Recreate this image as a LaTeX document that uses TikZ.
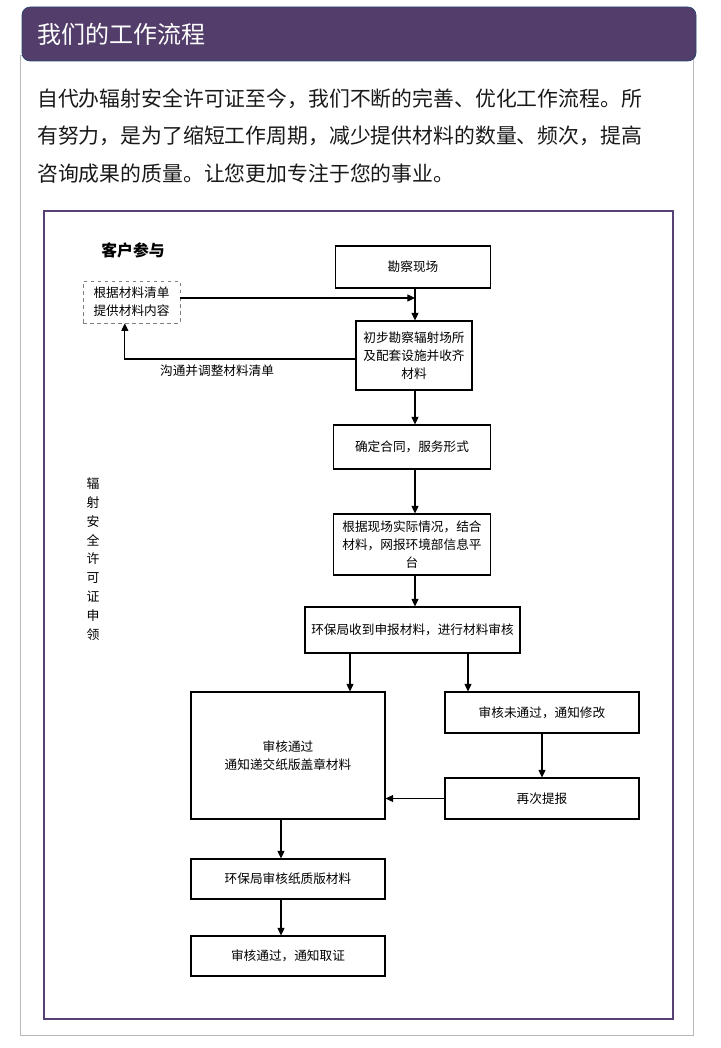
\documentclass[tikz,border=0pt]{standalone}
\usepackage{fontspec}
\setmainfont{Noto Sans CJK SC}
\usetikzlibrary{arrows.meta, positioning}
\definecolor{headpurple}{RGB}{83,61,106}
\definecolor{headedge}{RGB}{40,70,110}
\definecolor{framepurple}{RGB}{85,65,115}
\definecolor{panelgray}{RGB}{185,185,185}
\definecolor{bodytext}{RGB}{25,25,25}

\begin{document}
\begin{tikzpicture}[x=0.03cm, y=-0.03cm,
    stepbox/.style={draw, line width=0.9pt, inner sep=0pt, align=center,
                    font=\fontsize{10.8}{15.3}\selectfont},
    dashbox/.style={stepbox, dashed, draw=gray, line width=0.6pt},
    flow/.style={-{Triangle[length=6.5pt,width=6pt]}, line width=0.9pt}]
    \useasboundingbox (0,0) rectangle (720,1048);

    % page frame
    \draw[panelgray, line width=0.8pt] (20,55) rectangle (693,1035);
    \draw[headedge, fill=headpurple, line width=0.6pt, rounded corners=7pt] (22,7) rectangle (696,61);
    \node[anchor=west, text=white, font=\fontsize{20.5}{24}\selectfont] (title) at (33,34) {我们的工作流程};
    \node[anchor=west, align=left, inner sep=0pt, text=bodytext,
          font=\fontsize{17.8}{32.3}\selectfont] (intro) at (37,136)
          {自代办辐射安全许可证至今，我们不断的完善、优化工作流程。所\\
           有努力，是为了缩短工作周期，减少提供材料的数量、频次，提高\\
           咨询成果的质量。让您更加专注于您的事业。};
    \draw[framepurple, line width=0.9pt] (44,211) rectangle (673,1019);

    % side labels
    \node[font=\bfseries\fontsize{13.5}{16}\selectfont] (client) at (133,250) {客户参与};
    \node[align=center, font=\fontsize{11}{16.1}\selectfont] (apply) at (93,559)
          {辐\\射\\安\\全\\许\\可\\证\\申\\领};

    % steps
    \node[dashbox, minimum width=2.91cm, minimum height=1.26cm] (list) at (131.5,302) {根据材料清单\\提供材料内容};
    \node[stepbox, minimum width=4.65cm, minimum height=1.26cm] (survey) at (413,267) {勘察现场};
    \node[stepbox, minimum width=3.48cm, minimum height=2.07cm] (check) at (414,355.5) {初步勘察辐射场所\\及配套设施并收齐\\材料};
    \node[stepbox, minimum width=4.71cm, minimum height=1.32cm] (contract) at (412,447) {确定合同，服务形式};
    \node[stepbox, minimum width=4.71cm, minimum height=1.83cm] (online) at (412,544.5) {根据现场实际情况，结合\\材料，网报环境部信息平\\台};
    \node[stepbox, minimum width=6.45cm, minimum height=1.38cm] (receive) at (412.5,630) {环保局收到申报材料，进行材料审核};
    \node[stepbox, minimum width=5.82cm, minimum height=3.81cm] (pass) at (288,755.5) {审核通过\\通知递交纸版盖章材料};
    \node[stepbox, minimum width=5.82cm, minimum height=1.23cm] (fail) at (542,712.5) {审核未通过，通知修改};
    \node[stepbox, minimum width=5.82cm, minimum height=1.23cm] (resubmit) at (542,798.5) {再次提报};
    \node[stepbox, minimum width=5.82cm, minimum height=1.2cm] (paper) at (288,879) {环保局审核纸质版材料};
    \node[stepbox, minimum width=5.82cm, minimum height=1.2cm] (licence) at (288,956) {审核通过，通知取证};

    % connectors
    \coordinate (join) at (415,298);
    \draw[flow] (list.east |- join) -- (join);
    \draw[flow] (survey.south -| join) -- (check.north -| join);
    \draw[flow] (check.west |- 0,359) -| ([xshift=-0.2cm]list.south)
          node[pos=0.3, below=1pt, font=\fontsize{10.8}{13}\selectfont] (adjust) {沟通并调整材料清单};
    \draw[flow] (check.south -| join) -- (contract.north -| join);
    \draw[flow] (contract.south -| join) -- (online.north -| join);
    \draw[flow] (online.south -| join) -- (receive.north -| join);
    \draw[flow] (receive.south -| 350,0) -- (pass.north -| 350,0);
    \draw[flow] (receive.south -| 468,0) -- (fail.north -| 468,0);
    \draw[flow] (fail.south) -- (resubmit.north);
    \draw[flow] (resubmit.west) -- (pass.east |- resubmit.west);
    \draw[flow] ([xshift=-0.21cm]pass.south) -- ([xshift=-0.21cm]paper.north);
    \draw[flow] ([xshift=-0.21cm]paper.south) -- ([xshift=-0.21cm]licence.north);
\end{tikzpicture}
\end{document}
